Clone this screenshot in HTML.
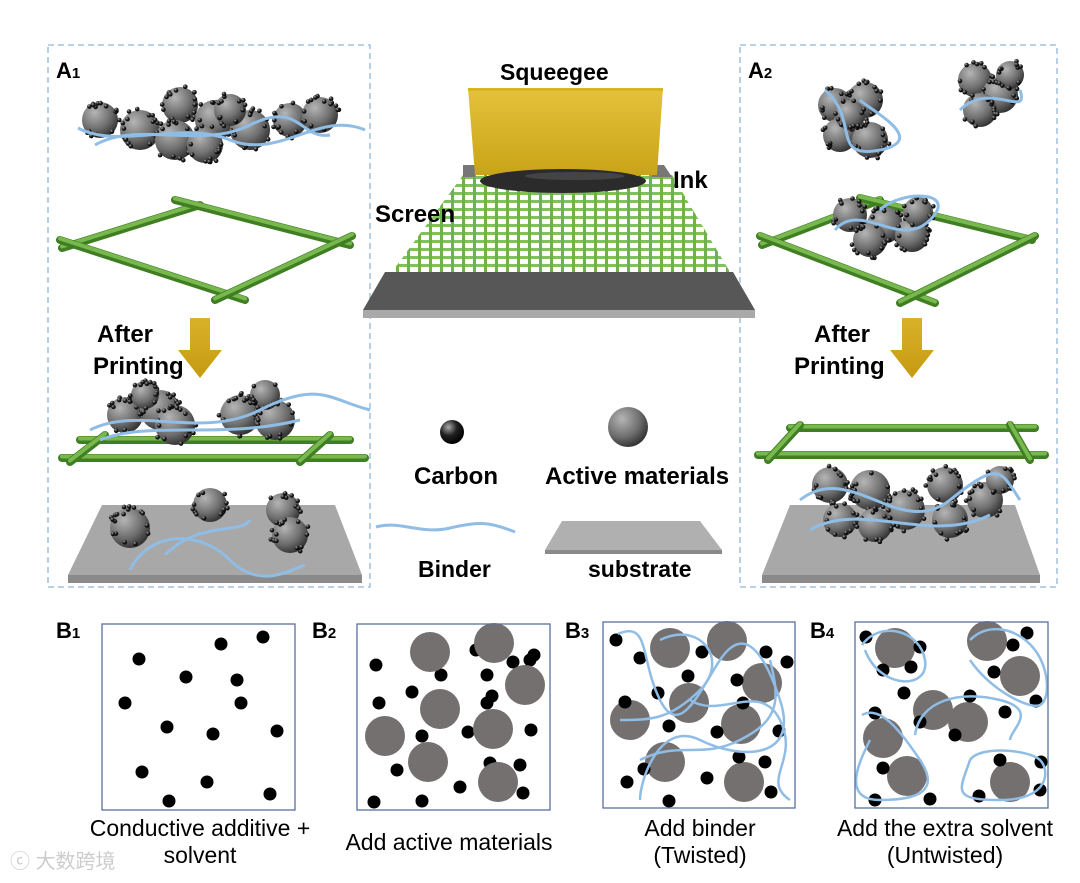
<!DOCTYPE html>
<html><head><meta charset="utf-8"><style>
html,body{margin:0;padding:0;background:#fff;}
svg{display:block;}
text{font-family:"Liberation Sans",Arial,sans-serif;}
.b{font-weight:bold;}
</style></head><body>
<svg id="s" width="1080" height="883" viewBox="0 0 1080 883" xmlns="http://www.w3.org/2000/svg">
<defs>
<radialGradient id="sph" cx="0.35" cy="0.3" r="0.75"><stop offset="0" stop-color="#b5b5b5"/><stop offset="0.6" stop-color="#6e6e6e"/><stop offset="1" stop-color="#2e2e2e"/></radialGradient>
<radialGradient id="dot" cx="0.35" cy="0.3" r="0.7"><stop offset="0" stop-color="#aaa"/><stop offset="0.5" stop-color="#222"/><stop offset="1" stop-color="#000"/></radialGradient>
<linearGradient id="yel" x1="0" y1="0" x2="0" y2="1"><stop offset="0" stop-color="#e4c23a"/><stop offset="1" stop-color="#c9a418"/></linearGradient>
<linearGradient id="arr" x1="0" y1="0" x2="0" y2="1"><stop offset="0" stop-color="#d9b22a"/><stop offset="1" stop-color="#c69a12"/></linearGradient>
<pattern id="mesh" width="11" height="8" patternUnits="userSpaceOnUse"><rect width="11" height="8" fill="#fff"/><rect x="0" y="0" width="11" height="3" fill="#7fc25a"/><rect x="0" y="0" width="3" height="8" fill="#6fb24a"/></pattern>
</defs>
<rect x="48" y="45" width="322" height="542" fill="none" stroke="#8fb6dc" stroke-width="1.3" stroke-dasharray="6,4"/>
<rect x="740" y="45" width="317" height="542" fill="none" stroke="#8fb6dc" stroke-width="1.3" stroke-dasharray="6,4"/>
<text x="56" y="78" class="b" font-size="22">A<tspan font-size="15">1</tspan></text>
<text x="748" y="78" class="b" font-size="22">A<tspan font-size="15">2</tspan></text>

<polygon points="385,272 733,272 755,310 363,310" fill="#575757"/>
<polygon points="363,310 755,310 755,318 363,318" fill="#a9a9a9"/>
<polygon points="463,175 672,175 730,272 392,272" fill="url(#mesh)"/>
<polygon points="463,165 475,165 475,177 463,177" fill="#777"/>
<polygon points="652,165 664,165 672,177 652,177" fill="#777"/>
<polygon points="468,88 663,88 657,175 475,175" fill="url(#yel)"/>
<rect x="468" y="88" width="195" height="3" fill="#d8b420"/>
<ellipse cx="563" cy="181" rx="83" ry="12" fill="#2b2b2b"/>
<ellipse cx="575" cy="176" rx="50" ry="4" fill="#555" opacity="0.6"/>
<text x="500" y="80" class="b" font-size="23">Squeegee</text>
<text x="673" y="188" class="b" font-size="24">Ink</text>
<text x="375" y="222" class="b" font-size="24">Screen</text>

<circle cx="452" cy="432" r="12" fill="url(#dot)"/>
<circle cx="628" cy="427" r="20" fill="url(#sph)"/>
<text x="414" y="484" class="b" font-size="24">Carbon</text>
<text x="545" y="484" class="b" font-size="24">Active materials</text>
<path d="M376,527 C400,520 420,535 450,528 S490,522 515,532" fill="none" stroke="#8fbde6" stroke-width="3"/>
<polygon points="562,521 700,521 722,550 545,550" fill="#b0b0b0"/>
<polygon points="545,550 722,550 722,554 545,554" fill="#8a8a8a"/>
<text x="418" y="577" class="b" font-size="23">Binder</text>
<text x="588" y="577" class="b" font-size="23">substrate</text>

<polygon points="190,318 210,318 210,350 222,350 200,378 178,350 190,350" fill="url(#arr)"/>
<polygon points="902,318 922,318 922,350 934,350 912,378 890,350 902,350" fill="url(#arr)"/>
<text x="97" y="342" class="b" font-size="24">After</text>
<text x="93" y="374" class="b" font-size="24">Printing</text>
<text x="814" y="342" class="b" font-size="24">After</text>
<text x="794" y="374" class="b" font-size="24">Printing</text>

<g id="dyn"></g>

<text x="56" y="638" class="b" font-size="22">B<tspan font-size="15">1</tspan></text>
<text x="312" y="638" class="b" font-size="22">B<tspan font-size="15">2</tspan></text>
<text x="565" y="638" class="b" font-size="22">B<tspan font-size="15">3</tspan></text>
<text x="810" y="638" class="b" font-size="22">B<tspan font-size="15">4</tspan></text>
<g id="bp"></g>
<rect x="102" y="624" width="193" height="186" fill="none" stroke="#5a6fa0" stroke-width="1.3"/>
<rect x="357" y="624" width="193" height="186" fill="none" stroke="#5a6fa0" stroke-width="1.3"/>
<rect x="603" y="622" width="192" height="186" fill="none" stroke="#5a6fa0" stroke-width="1.3"/>
<rect x="855" y="622" width="193" height="186" fill="none" stroke="#5a6fa0" stroke-width="1.3"/>
<g font-size="23" text-anchor="middle">
<text x="200" y="836">Conductive additive +</text>
<text x="200" y="863">solvent</text>
<text x="449" y="850">Add active materials</text>
<text x="700" y="836">Add binder</text>
<text x="700" y="863">(Twisted)</text>
<text x="945" y="836">Add the extra solvent</text>
<text x="945" y="863">(Untwisted)</text>
</g>
<text x="10" y="868" font-size="20" fill="#ccc" font-family="Noto Sans CJK SC, sans-serif">ⓒ 大数跨境</text>
</svg>
<script>
var NS="http://www.w3.org/2000/svg";
var dyn=document.getElementById('dyn'),bp=document.getElementById('bp');
var seed=7;function r(){seed=(seed*16807)%2147483647;return seed/2147483647;}
function el(p,t,a){var e=document.createElementNS(NS,t);for(var k in a)e.setAttribute(k,a[k]);p.appendChild(e);return e;}
function rod(x1,y1,x2,y2){el(dyn,'line',{x1:x1,y1:y1,x2:x2,y2:y2,stroke:'#3f7e22','stroke-width':8,'stroke-linecap':'round'});el(dyn,'line',{x1:x1,y1:y1-1.5,x2:x2,y2:y2-1.5,stroke:'#78b84e','stroke-width':4,'stroke-linecap':'round'});}
function binder(d){el(dyn,'path',{d:d,fill:'none',stroke:'#8fbde6','stroke-width':3});}
function sph(x,y,R){el(dyn,'circle',{cx:x,cy:y,r:R,fill:'url(#sph)'});var n=Math.round(R*0.9);for(var i=0;i<n;i++){var a=r()*6.283,d=R*(0.75+r()*0.35);el(dyn,'circle',{cx:x+Math.cos(a)*d,cy:y+Math.sin(a)*d,r:2.3,fill:'url(#dot)'});}}
function cl(list){list.forEach(function(s){sph(s[0],s[1],s[2]);});}
cl([[100,120,18],[140,130,20],[180,105,18],[175,140,20],[215,120,20],[250,130,20],[205,145,18],[290,120,17],[320,115,18],[230,110,16]]);
binder("M78,128 C120,150 180,120 230,140 S320,110 365,130");
binder("M95,145 C140,120 200,150 250,125 S300,140 330,135");
rod(62,248,200,205);rod(175,200,350,245);rod(60,240,245,300);rod(215,300,352,236);
rod(80,440,350,440);rod(62,458,365,458);rod(105,435,70,462);rod(330,435,300,462);
cl([[125,415,18],[160,410,20],[175,425,20],[240,415,20],[275,420,20],[265,395,15],[145,395,14]]);
binder("M90,430 C140,405 200,440 260,410 S330,400 370,410");
binder("M100,440 C150,420 220,440 300,420");
el(dyn,'polygon',{points:'102,505 335,505 362,575 68,575',fill:'#a8a8a8'});
el(dyn,'polygon',{points:'68,575 362,575 362,583 68,583',fill:'#8a8a8a'});
cl([[130,528,20],[210,505,17],[283,510,17],[290,535,18]]);
binder("M130,570 C150,530 200,530 230,560 S290,570 305,565");
binder("M165,555 C200,520 240,535 250,520");
cl([[835,105,17],[865,100,18],[840,135,17],[870,140,18],[850,115,15]]);
cl([[975,80,17],[1000,95,18],[980,110,17],[1010,75,14]]);
binder("M825,90 C860,120 830,160 880,150 S870,110 860,100");
binder("M960,110 C990,80 1030,120 1020,90");
rod(762,245,880,200);rod(860,198,1032,240);rod(760,236,935,303);rod(900,303,1035,236);
cl([[850,215,17],[885,225,18],[870,240,17],[912,235,17],[918,212,15]]);
binder("M835,230 C860,200 900,250 930,220 S900,190 880,210");
rod(790,428,1035,428);rod(758,455,1045,455);rod(800,425,768,460);rod(1010,425,1030,460);
el(dyn,'polygon',{points:'790,505 1015,505 1040,575 762,575',fill:'#a8a8a8'});
el(dyn,'polygon',{points:'762,575 1040,575 1040,583 762,583',fill:'#8a8a8a'});
cl([[830,485,18],[870,490,20],[905,510,20],[945,485,18],[985,500,18],[840,520,17],[875,525,17],[950,520,18],[1000,480,14]]);
binder("M800,500 C850,460 900,540 950,500 S1000,470 1020,500");
binder("M810,530 C860,500 930,545 990,515");
function d(p,x,y){el(bp,'circle',{cx:x,cy:y,r:6.5,fill:'#000'});}
function g(x,y){el(bp,'circle',{cx:x,cy:y,r:20,fill:'#757070'});}
function bl(dd){el(bp,'path',{d:dd,fill:'none',stroke:'#8fbde6','stroke-width':2.5});}
[[263,637],[221,644],[139,659],[186,677],[237,680],[125,703],[241,703],[167,727],[213,734],[277,731],[142,772],[207,782],[169,801],[270,794]].forEach(function(p){d(0,p[0],p[1]);});
[[419,655],[513,662],[487,675],[376,665],[476,650],[534,655],[530,660],[441,675],[492,696],[412,692],[379,703],[487,703],[422,736],[468,732],[531,730],[490,763],[520,765],[397,770],[460,787],[523,793],[374,802],[422,801]].forEach(function(p){d(0,p[0],p[1]);});
[[430,652],[494,643],[525,685],[440,709],[385,736],[493,729],[428,762],[498,782]].forEach(function(p){g(p[0],p[1]);});
[[670,648],[727,641],[762,683],[689,703],[630,720],[741,724],[665,762],[744,782]].forEach(function(p){g(p[0],p[1]);});
[[616,640],[640,658],[702,652],[766,652],[787,662],[688,676],[737,680],[658,693],[625,702],[743,703],[669,726],[717,732],[779,731],[739,757],[765,762],[644,769],[707,778],[627,782],[771,792],[669,801]].forEach(function(p){d(0,p[0],p[1]);});
bl("M618,634 C650,620 640,660 660,700 S700,690 720,660 S760,640 780,700 S740,760 700,740 S640,780 640,800");
bl("M660,640 C700,620 730,660 700,690 S650,720 620,720");
bl("M640,760 C680,740 700,760 740,740 S780,700 770,660");
bl("M690,700 C720,720 760,680 780,720 S760,780 790,800");
[[895,648],[987,641],[1020,676],[933,710],[968,722],[883,738],[907,776],[1010,782]].forEach(function(p){g(p[0],p[1]);});
[[866,637],[920,647],[883,670],[911,667],[1027,633],[1013,645],[994,672],[904,693],[1036,701],[875,713],[970,696],[1005,712],[920,722],[955,735],[883,768],[1000,760],[1041,762],[875,800],[930,799],[979,796],[1040,790]].forEach(function(p){d(0,p[0],p[1]);});
bl("M862,645 C880,620 920,630 925,660 S880,690 865,650");
bl("M970,640 C990,620 1020,630 1035,650 S1050,700 1040,705 S990,690 970,660");
bl("M915,735 C920,700 960,690 1000,700 S1010,730 1010,740");
bl("M862,715 C880,705 900,730 920,760 S920,800 880,800 S860,760 870,740");
bl("M970,760 C980,745 1030,750 1040,760 S1050,800 1000,800 S960,790 970,760");
</script>
</body></html>
